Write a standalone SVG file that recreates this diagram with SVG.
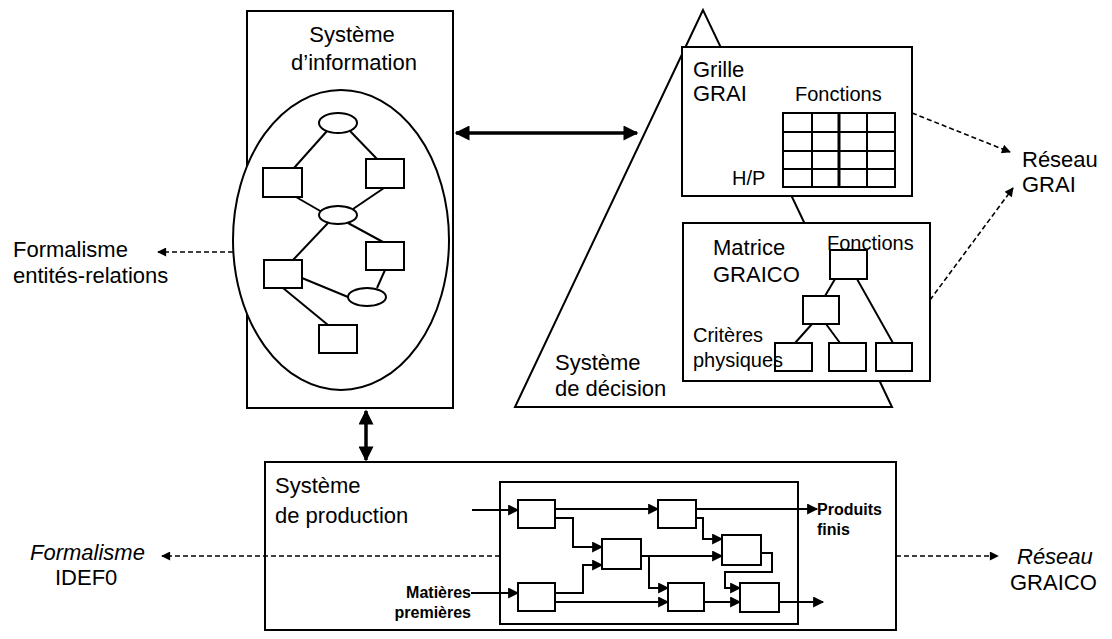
<svg xmlns="http://www.w3.org/2000/svg" width="1112" height="639" viewBox="0 0 1112 639">
<style>
.bx{fill:#fff;stroke:#000;stroke-width:2}
.nf{fill:none;stroke:#000;stroke-width:2}
.ln{fill:none;stroke:#000;stroke-width:2}
.thick{fill:none;stroke:#000;stroke-width:3.5}
.flow{fill:none;stroke:#000;stroke-width:2}
.dash{fill:none;stroke:#000;stroke-width:1.6;stroke-dasharray:5,3}
text{font-family:"Liberation Sans",Arial,sans-serif;fill:#000}
.big{font-size:22px}
.mid{font-size:20px}
.sm{font-size:16px;font-weight:bold}
</style>
<defs>
<marker id="big" viewBox="0 0 10 10" refX="9" refY="5" markerWidth="17" markerHeight="15" markerUnits="userSpaceOnUse" orient="auto-start-reverse"><path d="M0,0 L10,5 L0,10 z"/></marker>
<marker id="fa" viewBox="0 0 10 10" refX="9" refY="5" markerWidth="13" markerHeight="11" markerUnits="userSpaceOnUse" orient="auto"><path d="M0,0 L10,5 L0,10 z"/></marker>
<marker id="da" viewBox="0 0 10 10" refX="9" refY="5" markerWidth="11" markerHeight="9" markerUnits="userSpaceOnUse" orient="auto"><path d="M0,0 L10,5 L0,10 z"/></marker>
</defs>

<g id="systeme-information">
<rect class="bx" x="247" y="11" width="206" height="397"/>
<text class="big" x="352" y="42" text-anchor="middle">Système</text>
<text class="big" x="354" y="70" text-anchor="middle">d’information</text>
<ellipse class="bx" cx="341" cy="240" rx="108" ry="150"/>
<g id="er-model">
<line class="ln" x1="327" y1="131" x2="294" y2="168"/>
<line class="ln" x1="350" y1="131" x2="377" y2="159"/>
<line class="ln" x1="296" y1="197" x2="322" y2="212"/>
<line class="ln" x1="384" y1="188" x2="353" y2="209"/>
<line class="ln" x1="328" y1="223" x2="293" y2="260"/>
<line class="ln" x1="348" y1="223" x2="383" y2="242"/>
<line class="ln" x1="385" y1="270" x2="377" y2="288"/>
<line class="ln" x1="302" y1="278" x2="348" y2="297"/>
<line class="ln" x1="283" y1="288" x2="328" y2="325"/>
<ellipse class="bx" cx="338" cy="123" rx="19" ry="10"/>
<rect class="bx" x="263" y="168" width="39" height="29"/>
<rect class="bx" x="366" y="159" width="38" height="29"/>
<ellipse class="bx" cx="338" cy="215" rx="19" ry="9"/>
<rect class="bx" x="264" y="260" width="38" height="28"/>
<rect class="bx" x="366" y="242" width="38" height="28"/>
<ellipse class="bx" cx="367" cy="297" rx="19" ry="9"/>
<rect class="bx" x="319" y="325" width="38" height="28"/>
</g>
</g>

<g id="systeme-decision">
<polygon class="bx" points="703,10 515,407 892,407"/>
<text class="big" x="555" y="370">Système</text>
<text class="big" x="555" y="396">de décision</text>
</g>

<g id="grille-grai">
<rect class="bx" x="682" y="47" width="230" height="149"/>
<text class="big" x="693" y="77">Grille</text>
<text class="big" x="693" y="101">GRAI</text>
<text class="mid" x="795" y="101">Fonctions</text>
<text class="mid" x="732" y="185">H/P</text>
<rect class="nf" x="783" y="113" width="112" height="74"/>
<path class="ln" d="M812,113V187M867,113V187M783,132H895M783,151H895M783,169H895"/>
<path fill="none" stroke="#000" stroke-width="3" d="M839,113V187"/>
</g>

<g id="matrice-graico">
<rect class="bx" x="683" y="223" width="247" height="158"/>
<text class="big" x="713" y="255">Matrice</text>
<text class="big" x="713" y="282">GRAICO</text>
<text class="mid" x="827" y="250">Fonctions</text>
<line class="ln" x1="835" y1="279" x2="825" y2="296"/>
<line class="ln" x1="857" y1="279" x2="893" y2="343"/>
<line class="ln" x1="812" y1="324" x2="795" y2="343"/>
<line class="ln" x1="826" y1="324" x2="840" y2="343"/>
<rect class="nf" x="830" y="250" width="37" height="29"/>
<rect class="nf" x="803" y="296" width="36" height="28"/>
<rect class="nf" x="775" y="343" width="37" height="28"/>
<rect class="nf" x="829" y="343" width="37" height="28"/>
<rect class="nf" x="876" y="343" width="36" height="28"/>
<text class="mid" x="693" y="342">Critères</text>
<text class="mid" x="693" y="367">physiques</text>
</g>

<g id="systeme-production">
<rect class="bx" x="265" y="462" width="631" height="168"/>
<text class="big" x="275" y="493">Système</text>
<text class="big" x="275" y="523">de production</text>
<rect class="nf" x="500" y="482" width="298" height="142"/>
<text class="sm" x="471" y="598" text-anchor="end">Matières</text>
<text class="sm" x="471" y="618" text-anchor="end">premières</text>
<text class="sm" x="817" y="515">Produits</text>
<text class="sm" x="817" y="535">finis</text>
<rect class="nf" x="518" y="500" width="37" height="28"/>
<rect class="nf" x="518" y="583" width="37" height="28"/>
<rect class="nf" x="602" y="539" width="39" height="30"/>
<rect class="nf" x="658" y="500" width="38" height="28"/>
<rect class="nf" x="668" y="583" width="36" height="28"/>
<rect class="nf" x="722" y="535" width="39" height="30"/>
<rect class="nf" x="740" y="583" width="39" height="29"/>
</g>

<g id="reseau-grai">
<text class="big" x="1022" y="167">Réseau</text>
<text class="big" x="1022" y="192">GRAI</text>
</g>
<g id="reseau-graico">
<text class="big" x="1017" y="564" font-style="italic">Réseau</text>
<text class="big" x="1010" y="590">GRAICO</text>
</g>
<g id="formalisme-er">
<text class="big" x="13" y="257">Formalisme</text>
<text class="big" x="13" y="283">entités-relations</text>
</g>
<g id="formalisme-idef0">
<text class="big" x="30" y="560" font-style="italic">Formalisme</text>
<text class="big" x="55" y="585">IDEF0</text>
</g>

<g id="connectors">
<line class="thick" x1="456" y1="133" x2="637" y2="133" marker-start="url(#big)" marker-end="url(#big)"/>
<line class="thick" x1="366" y1="411" x2="366" y2="460" marker-start="url(#big)" marker-end="url(#big)"/>
<line class="dash" x1="233" y1="252" x2="158" y2="252" marker-end="url(#da)"/>
<line class="dash" x1="500" y1="556" x2="162" y2="556" marker-end="url(#da)"/>
<line class="dash" x1="896" y1="556" x2="998" y2="556" marker-end="url(#da)"/>
<line class="dash" x1="912" y1="113" x2="1010" y2="152" marker-end="url(#da)"/>
<line class="dash" x1="930" y1="300" x2="1013" y2="188" marker-end="url(#da)"/>
<line class="flow" x1="472" y1="510" x2="518" y2="510" marker-end="url(#fa)"/>
<line class="flow" x1="471" y1="593" x2="518" y2="593" marker-end="url(#fa)"/>
<line class="flow" x1="555" y1="509" x2="658" y2="509" marker-end="url(#fa)"/>
<polyline class="flow" points="555,518 573,518 573,547 602,547" marker-end="url(#fa)"/>
<polyline class="flow" points="555,593 583,593 583,565 602,565" marker-end="url(#fa)"/>
<line class="flow" x1="555" y1="602" x2="668" y2="602" marker-end="url(#fa)"/>
<line class="flow" x1="641" y1="556" x2="722" y2="556" marker-end="url(#fa)"/>
<polyline class="flow" points="649,556 649,588 668,588" marker-end="url(#fa)"/>
<polyline class="flow" points="696,518 703,518 703,539 722,539" marker-end="url(#fa)"/>
<line class="flow" x1="696" y1="509" x2="817" y2="509" marker-end="url(#fa)"/>
<polyline class="flow" points="761,553 772,553 772,572 725,572 725,588 740,588" marker-end="url(#fa)"/>
<line class="flow" x1="704" y1="602" x2="740" y2="602" marker-end="url(#fa)"/>
<line class="flow" x1="779" y1="602" x2="823" y2="602" marker-end="url(#fa)"/>
</g>
</svg>
